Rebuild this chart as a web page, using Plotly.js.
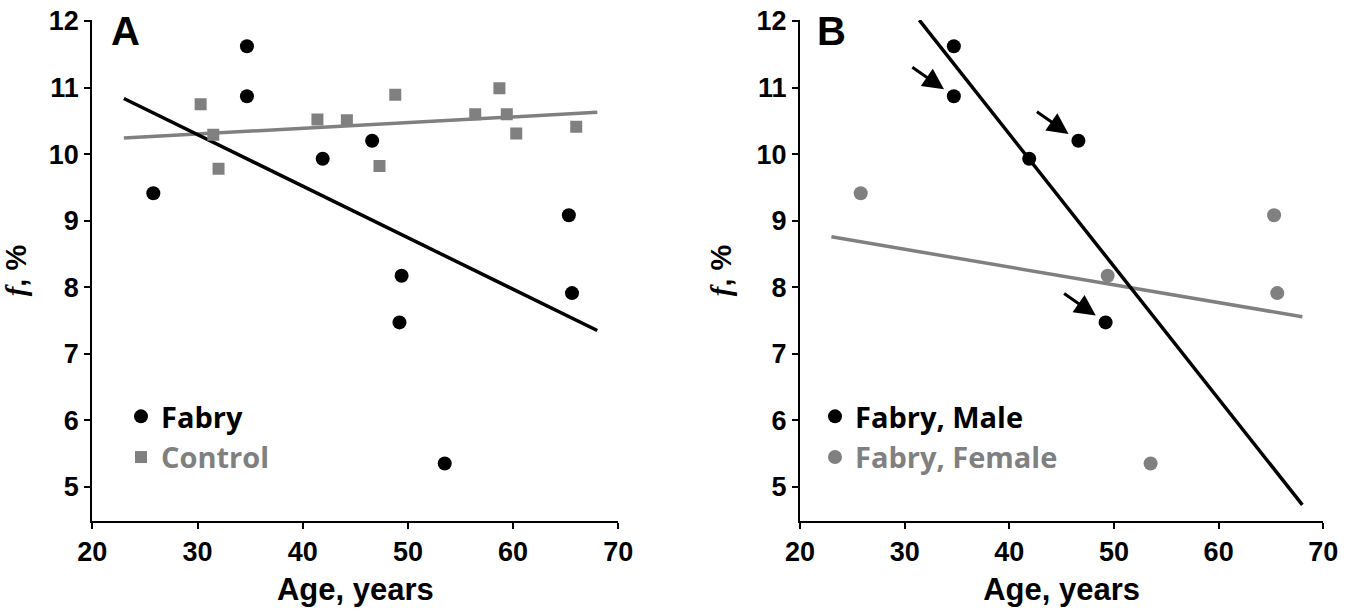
<!DOCTYPE html>
<html><head><meta charset="utf-8">
<script src="https://cdn.plot.ly/plotly-3.0.1.min.js"></script>
<style>html,body{margin:0;padding:0;background:#fff}</style>
</head><body><div id="chart" style="width:1360px;height:614px"></div>
<script>
// ---------- data ----------
// Panel A: Fabry patients
const fabryAge = [25.8, 34.7, 34.7, 41.9, 46.6, 49.4, 49.2, 53.5, 65.3, 65.6];
const fabryF   = [9.41, 11.62, 10.87, 9.93, 10.20, 8.17, 7.47, 5.35, 9.08, 7.91];
// Panel A: controls
const controlAge = [30.3, 31.5, 32.0, 41.4, 44.2, 47.3, 48.8, 56.4, 58.7, 59.4, 60.3, 66.0];
const controlF   = [10.75, 10.29, 9.78, 10.52, 10.51, 9.82, 10.89, 10.60, 10.99, 10.60, 10.31, 10.41];
// Panel B: Fabry patients by sex
const maleAge   = [34.7, 34.7, 41.9, 46.6, 49.2];
const maleF     = [11.62, 10.87, 9.93, 10.20, 7.47];
const femaleAge = [25.8, 49.4, 53.5, 65.3, 65.6];
const femaleF   = [9.41, 8.17, 5.35, 9.08, 7.91];
// males marked by arrows in panel B (indices into maleAge / maleF)
const arrowedMale = [1, 3, 4];
// age span covered by each drawn regression line
const spanFabry   = [23, 68];
const spanControl = [23, 68];
const spanMale    = [31.4, 68];
const spanFemale  = [23, 68];
// axis ticks
const xTicks = [20, 30, 40, 50, 60, 70];
const yTicks = [5, 6, 7, 8, 9, 10, 11, 12];
const panelLabels = ['A', 'B'];
const legendNames = {fabry: 'Fabry', control: 'Control', male: 'Fabry, Male', female: 'Fabry, Female'};

// least-squares line through the points, evaluated at the span ends
function fit(xs, ys, span) {
  const n = xs.length;
  const mx = xs.reduce((a, b) => a + b, 0) / n;
  const my = ys.reduce((a, b) => a + b, 0) / n;
  let sxy = 0, sxx = 0;
  for (let i = 0; i < n; i++) { sxy += (xs[i] - mx) * (ys[i] - my); sxx += (xs[i] - mx) ** 2; }
  const b = sxy / sxx, a = my - b * mx;
  return {x: span.slice(), y: span.map(v => a + b * v)};
}

// ---------- styling / layout ----------
const W = 1360, H = 614;
const BLACK = '#000000', GREY = '#808080';
const px = v => v / W, py = v => 1 - v / H;
const tickFont = {family: 'Liberation Sans, Arial, sans-serif', size: 27, weight: 'bold', color: BLACK};
const titleFont = {family: 'Liberation Sans, Arial, sans-serif', size: 31, weight: 'bold', color: BLACK};
const legFont = {family: 'Open Sans, sans-serif', size: 29, weight: 'bold', color: BLACK};

const fA = fit(fabryAge, fabryF, spanFabry);
const fC = fit(controlAge, controlF, spanControl);
const fM = fit(maleAge, maleF, spanMale);
const fF = fit(femaleAge, femaleF, spanFemale);

const traces = [
  {x: fC.x, y: fC.y, mode: 'lines', line: {color: GREY, width: 3.5}, showlegend: false, hoverinfo: 'skip', xaxis: 'x', yaxis: 'y'},
  {x: fA.x, y: fA.y, mode: 'lines', line: {color: BLACK, width: 3.5}, showlegend: false, hoverinfo: 'skip', xaxis: 'x', yaxis: 'y'},
  {x: fabryAge, y: fabryF, mode: 'markers', name: legendNames.fabry, legend: 'legend',
   marker: {symbol: 'circle', size: 14, color: BLACK}, xaxis: 'x', yaxis: 'y'},
  {x: controlAge, y: controlF, mode: 'markers', name: '<span style="color:' + GREY + '">' + legendNames.control + '</span>', legend: 'legend',
   marker: {symbol: 'square', size: 12, color: GREY}, xaxis: 'x', yaxis: 'y'},

  {x: fF.x, y: fF.y, mode: 'lines', line: {color: GREY, width: 3.5}, showlegend: false, hoverinfo: 'skip', xaxis: 'x2', yaxis: 'y2'},
  {x: fM.x, y: fM.y, mode: 'lines', line: {color: BLACK, width: 3.5}, showlegend: false, hoverinfo: 'skip', xaxis: 'x2', yaxis: 'y2'},
  {x: maleAge, y: maleF, mode: 'markers', name: legendNames.male, legend: 'legend2',
   marker: {symbol: 'circle', size: 14, color: BLACK}, xaxis: 'x2', yaxis: 'y2'},
  {x: femaleAge, y: femaleF, mode: 'markers', name: '<span style="color:' + GREY + '">' + legendNames.female + '</span>', legend: 'legend2',
   marker: {symbol: 'circle', size: 14, color: GREY}, xaxis: 'x2', yaxis: 'y2'}
];

function xAxis(domain, anchor) {
  return {domain: domain, anchor: anchor, range: [20, 70], tickmode: 'array', tickvals: xTicks,
    ticktext: xTicks.map(String), ticks: 'outside', ticklen: 6, tickwidth: 2, tickcolor: BLACK,
    showline: true, linewidth: 2, linecolor: BLACK, showgrid: false, zeroline: false,
    tickfont: tickFont, title: {text: 'Age, years', font: titleFont, standoff: 12}};
}
function yAxis(anchor) {
  return {domain: [py(521), py(20)], anchor: anchor, range: [4.485, 12.015], tickmode: 'array', tickvals: yTicks,
    ticktext: yTicks.map(String), ticks: 'outside', ticklen: 6, tickwidth: 2, tickcolor: BLACK,
    showline: true, linewidth: 2, linecolor: BLACK, showgrid: false, zeroline: false,
    tickfont: tickFont,
    title: {text: '<span style="font-family:Liberation Serif,serif;font-style:italic">f</span>, %', font: {family: titleFont.family, size: 29, weight: 'bold', color: BLACK}, standoff: 16}};
}

const annotations = [
  {text: panelLabels[0], xref: 'paper', yref: 'paper', x: px(109), y: py(31), xanchor: 'left', yanchor: 'middle', showarrow: false,
   font: {family: 'Liberation Sans, Arial, sans-serif', size: 40, weight: 'bold', color: BLACK}},
  {text: panelLabels[1], xref: 'paper', yref: 'paper', x: px(815), y: py(31), xanchor: 'left', yanchor: 'middle', showarrow: false,
   font: {family: 'Liberation Sans, Arial, sans-serif', size: 40, weight: 'bold', color: BLACK}}
];
arrowedMale.forEach(i => annotations.push({
  x: maleAge[i], y: maleF[i], xref: 'x2', yref: 'y2', text: '', showarrow: true,
  ax: -43, ay: -30, arrowhead: 2, arrowsize: 1.4, arrowwidth: 3, arrowcolor: BLACK, standoff: 12
}));

const layout = {
  width: W, height: H, margin: {l: 0, r: 0, t: 0, b: 0},
  paper_bgcolor: '#ffffff', plot_bgcolor: '#ffffff',
  xaxis: xAxis([px(92.3), px(618.3)], 'y'),
  yaxis: yAxis('x'),
  xaxis2: xAxis([px(800), px(1323.3)], 'y2'),
  yaxis2: yAxis('x2'),
  legend: {x: px(121), y: py(391), xanchor: 'left', yanchor: 'top', font: legFont, bgcolor: 'rgba(0,0,0,0)', tracegroupgap: 0},
  legend2: {x: px(815), y: py(391), xanchor: 'left', yanchor: 'top', font: legFont, bgcolor: 'rgba(0,0,0,0)', tracegroupgap: 0},
  annotations: annotations,
  showlegend: true
};

Plotly.newPlot('chart', traces, layout, {displayModeBar: false, staticPlot: true});
</script></body></html>
